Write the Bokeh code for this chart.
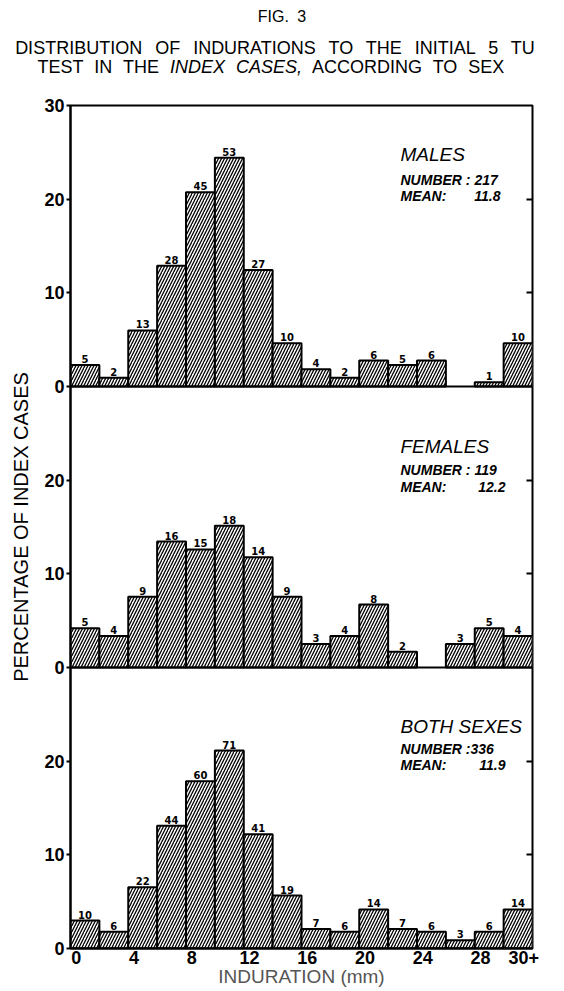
import numpy as np
from bokeh.plotting import figure
from bokeh.layouts import column
from bokeh.models import (ColumnDataSource, FixedTicker, LinearAxis, Label, Span, Range1d, Div)
from bokeh.embed import file_html
from bokeh.resources import INLINE
from bokeh.core.properties import value

# ---------------- data ----------------
bin_starts = [0, 2, 4, 6, 8, 10, 12, 14, 16, 18, 20, 22, 24, 26, 28, 30]
male_counts = [5, 2, 13, 28, 45, 53, 27, 10, 4, 2, 6, 5, 6, 0, 1, 10]
female_counts = [5, 4, 9, 16, 15, 18, 14, 9, 3, 4, 8, 2, 0, 3, 5, 4]
both_counts = [10, 6, 22, 44, 60, 71, 41, 19, 7, 6, 14, 7, 6, 3, 6, 14]
panel_names = ["MALES", "FEMALES", "BOTH SEXES"]
panel_numbers = ["NUMBER : 217", "NUMBER  : 119", "NUMBER  :336"]
panel_means = ["11.8", "12.2", "11.9"]
x_tick_values = [0, 4, 8, 12, 16, 20, 24, 28, 31]
x_tick_labels = ["0", "4", "8", "12", "16", "20", "24", "28", "30+"]
y_tick_values = [0, 10, 20]
y_top_label = "30"
fig_label = "FIG. 3"
title_line1 = "DISTRIBUTION OF INDURATIONS TO THE INITIAL 5 TU"
title_line2_pre = "TEST IN THE"
title_line2_ital = "INDEX CASES,"
title_line2_post = "ACCORDING TO SEX"
BIN_WIDTH = 2
PANEL_SPAN = 30

# ---------------- layout (page pixels) ----------------
FL, FR, FT, FB = 70, 532, 105, 948
HEADER_H = 92
FIG_W = FR + 22
X_MAX = 32
Y_MAX = 3 * PANEL_SPAN
name_dy = [49, 60, 59]
number_dy = [74, 83, 81]
mean_dy = [90, 100, 97]
mean_right = [500, 505, 505]


def px2x(px):
    return (px - FL) / (FR - FL) * X_MAX


def px2y(py):
    return (FB - py) / (FB - FT) * Y_MAX


# ---------------- header with title ----------------
header_html = (
    '<div style="position:relative;width:%dpx;height:%dpx;'
    'font-family:\'Liberation Sans\',Arial,sans-serif;color:#000;">' % (FIG_W, HEADER_H)
    + '<div style="position:absolute;left:0;top:8px;width:564px;text-align:center;'
      'font-size:16px;line-height:18px;white-space:nowrap;word-spacing:4px;">%s</div>' % fig_label
    + '<div style="position:absolute;left:0;top:38px;width:%dpx;text-align:center;'
      'font-size:18px;line-height:20px;word-spacing:8px;white-space:nowrap;">%s</div>'
      % (FIG_W - 4, title_line1)
    + '<div style="position:absolute;left:0;top:57px;width:%dpx;text-align:center;'
      'font-size:18px;line-height:20px;word-spacing:6px;white-space:nowrap;">'
      '%s <i>%s</i> %s</div>' % (FIG_W - 12, title_line2_pre, title_line2_ital, title_line2_post)
    + '</div>'
)
hdr = Div(text=header_html, width=FIG_W, height=HEADER_H, margin=0)

# ---------------- main chart ----------------
p = figure(frame_width=FR - FL, frame_height=FB - FT,
           x_range=Range1d(0, X_MAX), y_range=Range1d(0, Y_MAX),
           output_backend="svg", toolbar_location=None,
           min_border_left=FL, min_border_top=FT - HEADER_H,
           min_border_right=FIG_W - FR, min_border_bottom=36)
p.xgrid.visible = False
p.ygrid.visible = False
p.outline_line_color = "black"
p.outline_line_width = 2

BAR_FONT = "DejaVu Sans"
counts_by_panel = [male_counts, female_counts, both_counts]
offsets = [2 * PANEL_SPAN, PANEL_SPAN, 0]

for i, (counts, off) in enumerate(zip(counts_by_panel, offsets)):
    total = sum(counts)
    left = np.array(bin_starts, dtype=float)
    c = np.array(counts, dtype=float)
    pct = c / total * 100.0
    keep = c > 0
    src = ColumnDataSource(dict(left=left[keep], right=left[keep] + BIN_WIDTH,
                                bottom=np.full(keep.sum(), off, dtype=float),
                                top=off + pct[keep],
                                xc=left[keep] + BIN_WIDTH / 2,
                                label=[str(int(v)) for v in c[keep]]))
    p.quad(left="left", right="right", bottom="bottom", top="top", source=src,
           fill_color="white", line_color="black", line_width=2,
           hatch_pattern="/", hatch_color="black", hatch_scale=6, hatch_weight=1.3)
    p.text(x="xc", y="top", text="label", source=src, y_offset=-2,
           text_align="center", text_baseline="bottom",
           text_font=value(BAR_FONT), text_font_style="bold",
           text_font_size="10px", text_color="black")
    p.add_layout(Span(location=off, dimension="width", line_color="black", line_width=2))
    top_px = FB - (off + PANEL_SPAN) / Y_MAX * (FB - FT)
    p.add_layout(Label(x=px2x(400), y=px2y(top_px + name_dy[i]), text=panel_names[i],
                       text_font="Liberation Sans", text_font_style="italic",
                       text_font_size="19px", text_align="left", text_baseline="middle",
                       text_color="black"))
    p.add_layout(Label(x=px2x(400), y=px2y(top_px + number_dy[i]), text=panel_numbers[i],
                       text_font="Liberation Sans", text_font_style="bold italic",
                       text_font_size="14px", text_align="left", text_baseline="middle",
                       text_color="black"))
    p.add_layout(Label(x=px2x(400), y=px2y(top_px + mean_dy[i]), text="MEAN:",
                       text_font="Liberation Sans", text_font_style="bold italic",
                       text_font_size="14px", text_align="left", text_baseline="middle",
                       text_color="black"))
    p.add_layout(Label(x=px2x(mean_right[i]), y=px2y(top_px + mean_dy[i]), text=panel_means[i],
                       text_font="Liberation Sans", text_font_style="bold italic",
                       text_font_size="14px", text_align="right", text_baseline="middle",
                       text_color="black"))

# ---------------- axes ----------------
TICK_FONT = "Liberation Sans"
X_LABEL_SHIFT = 0.4
p.xaxis.ticker = FixedTicker(ticks=[v + X_LABEL_SHIFT for v in x_tick_values])
p.xaxis.major_label_overrides = {v + X_LABEL_SHIFT: t for v, t in zip(x_tick_values, x_tick_labels)}
p.xaxis.major_tick_out = 0
p.xaxis.major_tick_in = 0
p.xaxis.minor_tick_line_color = None
p.xaxis.axis_line_width = 2
p.xaxis.major_label_text_font = TICK_FONT
p.xaxis.major_label_text_font_size = "18px"
p.xaxis.major_label_text_font_style = "bold"
p.xaxis.major_label_text_color = "black"
p.xaxis.major_label_standoff = 2
p.xaxis.axis_label = "INDURATION (mm)"
p.xaxis.axis_label_text_font = "Liberation Sans"
p.xaxis.axis_label_text_font_style = "normal"
p.xaxis.axis_label_text_font_size = "19px"
p.xaxis.axis_label_text_color = "#555555"
p.xaxis.axis_label_standoff = -1

y_ticks = []
y_over = {}
for k in range(3):
    for v in y_tick_values:
        y_ticks.append(k * PANEL_SPAN + v)
        y_over[k * PANEL_SPAN + v] = str(v)
y_ticks.append(Y_MAX)
y_over[Y_MAX] = y_top_label
p.yaxis.ticker = FixedTicker(ticks=y_ticks)
p.yaxis.major_label_overrides = y_over
p.yaxis.major_tick_out = 4
p.yaxis.major_tick_in = 0
p.yaxis.major_tick_line_width = 2
p.yaxis.minor_tick_line_color = None
p.yaxis.axis_line_width = 2
p.yaxis.major_label_text_font = TICK_FONT
p.yaxis.major_label_text_font_size = "18px"
p.yaxis.major_label_text_font_style = "bold"
p.yaxis.major_label_text_color = "black"
p.yaxis.major_label_standoff = 2
p.yaxis.axis_label = "PERCENTAGE OF INDEX CASES"
p.yaxis.axis_label_text_font = "Liberation Sans"
p.yaxis.axis_label_text_font_style = "normal"
p.yaxis.axis_label_text_font_size = "20px"
p.yaxis.axis_label_text_color = "black"
p.yaxis.axis_label_standoff = 9

right_ticks = [k * PANEL_SPAN + v for k in range(3) for v in y_tick_values if v > 0]
rax = LinearAxis(ticker=FixedTicker(ticks=right_ticks))
rax.major_label_overrides = {t: "" for t in right_ticks}
rax.major_tick_in = 6
rax.major_tick_out = 0
rax.major_tick_line_width = 2
rax.minor_tick_line_color = None
rax.axis_line_color = None
rax.major_label_standoff = 0
p.add_layout(rax, "right")

layout = column(hdr, p, spacing=0)
open("out.html", "w").write(file_html(layout, INLINE))
